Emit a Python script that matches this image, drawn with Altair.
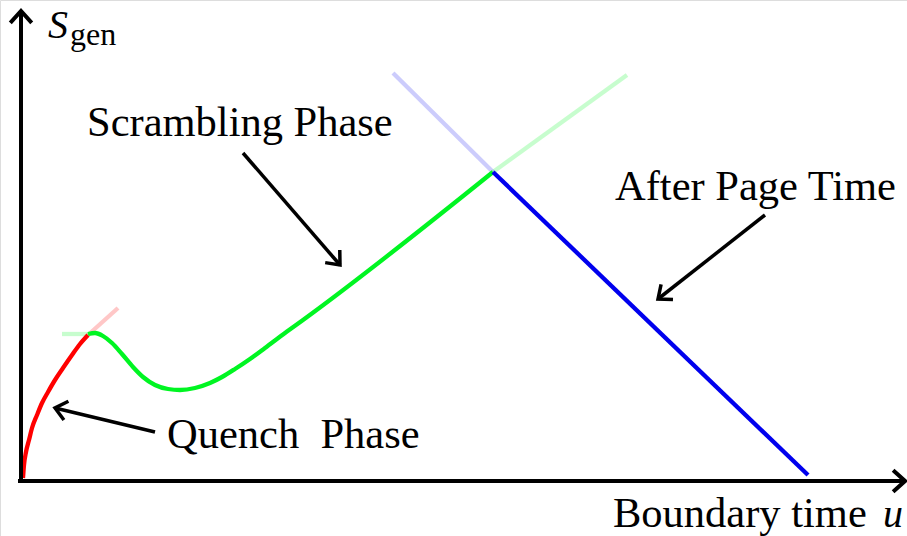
import altair as alt
import numpy as np
import pandas as pd

# Coordinates: u along the boundary-time axis, s along the S_gen axis (origin at the corner)
W, H = 907, 536
U_MIN, U_MAX = -21, 886
S_MIN, S_MAX = -55, 481

# Quench phase (red)
red_u = [2, 3, 5, 8, 11, 16, 21, 27, 34, 42, 51, 59, 67]
red_s = [3, 16, 29, 41, 53, 66, 78, 89, 101, 113, 126, 137, 146]
red_ext_u = [67, 97]
red_ext_s = [146, 173]

# Scrambling phase (green)
green_u = [67, 74, 82, 91, 101, 112, 122, 134, 147, 159, 174, 189, 201, 214, 229, 244, 264, 282, 472]
green_s = [147, 148, 145, 138, 127, 114, 104, 96, 92, 91, 93, 98, 104, 112, 122, 133, 148, 161, 309]
green_flat_u = [41, 67]
green_flat_s = [147, 147]
green_ext_u = [472, 606]
green_ext_s = [309, 406]

# After Page time (blue)
blue_u = [472, 787]
blue_s = [309, 6]
blue_ext_u = [372, 472]
blue_ext_s = [408, 309]

# Axis lines and arrow tips
x_axis_u = [-3, 884]
x_axis_s = [0, 0]
y_axis_u = [0, 0]
y_axis_s = [-2, 470]

# Annotation arrows: start -> tip
arrow_start_u = [222, 744, 134]
arrow_start_s = [328, 266, 49]
arrow_tip_u = [319, 637, 34]
arrow_tip_s = [216, 182, 73]

labels = ["Scrambling Phase", "After Page Time", "Quench\u2002Phase", "Boundary time"]
label_u = [66, 594, 146, 592]
label_s = [345, 281, 33, -46]

FONT = "Liberation Serif"
RED, GREEN, BLUE = "#ff0000", "#00f522", "#0000ee"

xs = alt.Scale(domain=[U_MIN, U_MAX], range=[0, W])
ys = alt.Scale(domain=[S_MIN, S_MAX], range=[H, 0])


def path(us, ss, color, opacity=1.0, width=4.3, interp="linear"):
    df = pd.DataFrame({"u": us, "s": ss, "i": range(len(us))})
    return alt.Chart(df).mark_line(
        color=color, opacity=opacity, strokeWidth=width, interpolate=interp, strokeCap="butt"
    ).encode(
        x=alt.X("u:Q", scale=xs, axis=None),
        y=alt.Y("s:Q", scale=ys, axis=None),
        order="i:Q",
    )


def chevron(tu, ts, fu, fs, arm=15.0, spread=np.deg2rad(32)):
    # open arrowhead at (tu, ts), pointing away from (fu, fs)
    ang = np.arctan2(fs - ts, fu - tu)
    a1 = ang + spread
    a2 = ang - spread
    us = [tu + arm * np.cos(a1), tu, tu + arm * np.cos(a2)]
    ss = [ts + arm * np.sin(a1), ts, ts + arm * np.sin(a2)]
    return us, ss


layers = []
# faded continuations
layers.append(path(red_ext_u, red_ext_s, RED, 0.22))
layers.append(path(green_flat_u, green_flat_s, GREEN, 0.22))
layers.append(path(green_ext_u, green_ext_s, GREEN, 0.22))
layers.append(path(blue_ext_u, blue_ext_s, BLUE, 0.2))
# main curves
layers.append(path(red_u, red_s, RED, interp="monotone"))
layers.append(path(green_u, green_s, GREEN, interp="monotone"))
layers.append(path(blue_u, blue_s, BLUE))

# axes
layers.append(path(x_axis_u, x_axis_s, "black", width=4))
layers.append(path(y_axis_u, y_axis_s, "black", width=4))
cu, cs = chevron(x_axis_u[1], x_axis_s[1], x_axis_u[0], x_axis_s[0], arm=16, spread=np.deg2rad(42))
layers.append(path(cu, cs, "black", width=4))
cu, cs = chevron(y_axis_u[1], y_axis_s[1], y_axis_u[0], y_axis_s[0], arm=16, spread=np.deg2rad(42))
layers.append(path(cu, cs, "black", width=4))

# annotation arrows
for su, ss_, tu, ts in zip(arrow_start_u, arrow_start_s, arrow_tip_u, arrow_tip_s):
    layers.append(path([su, tu], [ss_, ts], "black", width=3.5))
    cu, cs = chevron(tu, ts, su, ss_, arm=15, spread=np.deg2rad(40))
    layers.append(path(cu, cs, "black", width=3.5))

# labels
lab_df = pd.DataFrame({"u": label_u, "s": label_s, "t": labels})
layers.append(
    alt.Chart(lab_df).mark_text(
        font=FONT, fontSize=42.5, align="left", baseline="alphabetic", color="black"
    ).encode(x=alt.X("u:Q", scale=xs, axis=None), y=alt.Y("s:Q", scale=ys, axis=None), text="t:N")
)

ital_df = pd.DataFrame({"u": [862, 27], "s": [-46, 443], "t": ["u", "S"]})
layers.append(
    alt.Chart(ital_df).mark_text(
        font=FONT, fontSize=40, fontStyle="italic", align="left", baseline="alphabetic", color="black"
    ).encode(x=alt.X("u:Q", scale=xs, axis=None), y=alt.Y("s:Q", scale=ys, axis=None), text="t:N")
)
sub_df = pd.DataFrame({"u": [49], "s": [436], "t": ["gen"]})
layers.append(
    alt.Chart(sub_df).mark_text(
        font=FONT, fontSize=32, align="left", baseline="alphabetic", color="black"
    ).encode(x=alt.X("u:Q", scale=xs, axis=None), y=alt.Y("s:Q", scale=ys, axis=None), text="t:N")
)

chart = alt.layer(*layers).properties(
    width=W, height=H, padding=0, autosize=alt.AutoSizeParams(type="none")
).configure_view(stroke=None).configure(background="white")

chart.save("out.html", embed_options={"renderer": "svg", "actions": False})
